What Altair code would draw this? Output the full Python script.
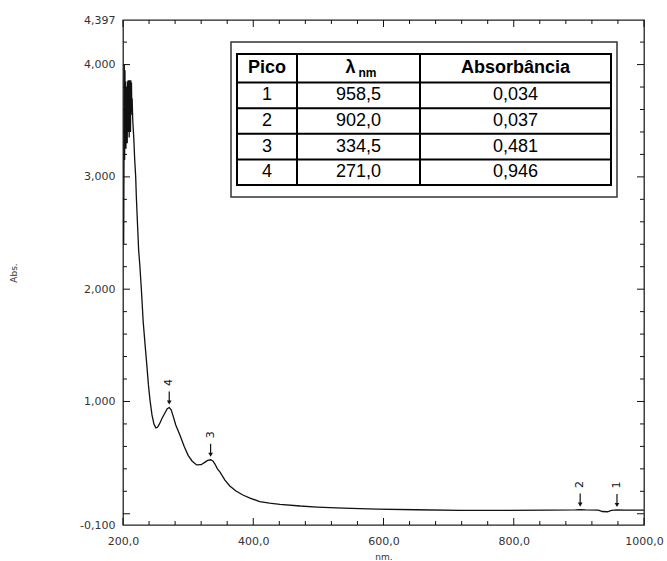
import altair as alt
import pandas as pd

# ---- spectrum (wavelength in nm, absorbance) ----
wavelength = [
    201.0, 201.5, 202.0, 202.5, 203.0, 203.5, 204.0, 204.5,
    205.0, 205.5, 206.0, 206.5, 207.0, 207.5, 208.0, 208.5, 209.0, 209.5,
    210.0, 210.5, 211.0, 211.5, 212.0, 212.5, 213.0, 213.5, 214.0, 215.0,
    216.5, 218.0, 219.5, 220.5, 222.5, 224.0, 226.0, 228.5, 231.0, 234.0,
    236.5, 239.0, 241.5, 244.5, 247.5, 250.5, 253.0, 256.0, 260.0, 264.5,
    268.0, 271.0, 274.0, 277.0, 281.0, 287.5, 294.0, 300.0, 306.0, 313.0,
    320.0, 326.0, 330.0, 334.5, 338.0, 341.0, 345.0, 349.0, 356.5, 364.0,
    373.5, 384.0, 395.0, 410.0, 425.0, 441.0, 472.0, 498.0, 538.0, 590.0,
    650.0, 717.0, 780.0, 850.0, 895.0, 902.0, 910.0, 930.0, 936.0, 944.0,
    950.0, 958.5, 970.0, 1000.0,
]
absorbance = [
    2.40, 3.06, 4.00, 3.15, 3.95, 3.30, 3.85, 3.25,
    3.80, 3.35, 3.75, 3.30, 3.85, 3.40, 3.86, 3.45, 3.80, 3.35,
    3.86, 3.50, 3.83, 3.40, 3.86, 3.55, 3.84, 3.62, 3.70, 3.50,
    3.35, 3.15, 3.00, 2.82, 2.55, 2.35, 2.20, 1.97, 1.71, 1.50,
    1.33, 1.15, 1.01, 0.88, 0.80, 0.765, 0.77, 0.80, 0.85, 0.90,
    0.935, 0.946, 0.925, 0.87, 0.79, 0.70, 0.60, 0.52, 0.47, 0.435,
    0.437, 0.46, 0.475, 0.481, 0.47, 0.445, 0.40, 0.37, 0.30, 0.247,
    0.203, 0.167, 0.14, 0.108, 0.095, 0.084, 0.069, 0.060, 0.051, 0.042,
    0.036, 0.031, 0.030, 0.032, 0.034, 0.037, 0.034, 0.033, 0.020, 0.018,
    0.030, 0.034, 0.033, 0.032,
]

# ---- detected peaks ----
peak_id = [1, 2, 3, 4]
peak_nm = [958.5, 902.0, 334.5, 271.0]
peak_abs = [0.034, 0.037, 0.481, 0.946]

# ---- axis labels and tick positions ----
x_label_values = [200, 400, 600, 800, 1000]
y_label_values = [-0.1, 1.0, 2.0, 3.0, 4.0, 4.397]
x_major_ticks = [200, 400, 600, 800, 1000]
x_minor_ticks = [240, 280, 320, 360, 440, 480, 520, 560, 640, 680, 720, 760, 840, 880, 920, 960]
y_major_ticks = [0.0, 1.0, 2.0, 3.0, 4.0]
y_minor_ticks = [0.2, 0.4, 0.6, 0.8, 1.2, 1.4, 1.6, 1.8, 2.2, 2.4, 2.6, 2.8,
                 3.2, 3.4, 3.6, 3.8, 4.2]

W, H = 521, 505
X_MIN, X_MAX = 200, 1000
Y_MIN, Y_MAX = -0.1, 4.397
PX_PER_ABS = H / (Y_MAX - Y_MIN)

AXIS_FONT = "DejaVu Sans"
TABLE_FONT = "Liberation Sans"
INK = "#111111"
LABEL_INK = "#333333"

xs = alt.Scale(domain=[X_MIN, X_MAX], nice=False, zero=False)
ys = alt.Scale(domain=[Y_MIN, Y_MAX], nice=False, zero=False)

label_expr = "replace(replace(datum.label, '.', ','), '\u2212', '-')"

X_AXIS = alt.Axis(
    values=x_label_values, format=".1f", labelExpr=label_expr,
    tickSize=0, domain=False, grid=False, labelPadding=10,
    labelFont=AXIS_FONT, labelFontSize=11, labelColor=LABEL_INK,
    labelFlush=False, labelOverlap=False,
    title="nm.", titleFont=AXIS_FONT, titleFontSize=9,
    titleFontWeight="normal", titleColor=LABEL_INK,
    titleX=W / 2, titleY=31, titleAlign="center", titleBaseline="middle",
)
Y_AXIS = alt.Axis(
    values=y_label_values, format=".3f", labelExpr=label_expr,
    tickSize=0, domain=False, grid=False, labelPadding=8,
    labelFont=AXIS_FONT, labelFontSize=11, labelColor=LABEL_INK,
    labelFlush=False, labelOverlap=False,
    title="Abs.", titleFont=AXIS_FONT, titleFontSize=9,
    titleFontWeight="normal", titleColor=LABEL_INK,
    titleAngle=270, titleX=-110, titleY=H / 2,
    titleAlign="center", titleBaseline="middle",
)


def X(field):
    return alt.X(field, scale=xs, axis=X_AXIS)


def Y(field):
    return alt.Y(field, scale=ys, axis=Y_AXIS)


spec_df = pd.DataFrame({"nm": wavelength, "abs": absorbance})

spectrum = alt.Chart(spec_df).mark_line(color=INK, strokeWidth=1.3).encode(
    x=X("nm:Q"), y=Y("abs:Q"),
)


def x_ticks(values, length, side):
    df = pd.DataFrame({"nm": values})
    y0, y1 = (H, H - length) if side == "bottom" else (0, length)
    return alt.Chart(df).mark_rule(color=INK, strokeWidth=1).encode(
        x=X("nm:Q"), y=alt.value(y0), y2=alt.value(y1),
    )


def y_ticks(values, length, side):
    df = pd.DataFrame({"abs": values})
    x0, x1 = (0, length) if side == "left" else (W, W - length)
    return alt.Chart(df).mark_rule(color=INK, strokeWidth=1).encode(
        y=Y("abs:Q"), x=alt.value(x0), x2=alt.value(x1),
    )


ticks = []
for side in ("bottom", "top"):
    ticks.append(x_ticks(x_major_ticks, 7, side))
    ticks.append(x_ticks(x_minor_ticks, 4, side))
for side in ("left", "right"):
    ticks.append(y_ticks(y_major_ticks, 7, side))
    ticks.append(y_ticks(y_minor_ticks, 4, side))

# ---- peak arrows and numbers ----
peak_df = pd.DataFrame({"id": peak_id, "nm": peak_nm, "abs": peak_abs})
peak_df["tip"] = peak_df["abs"] + 5 / PX_PER_ABS
peak_df["top"] = peak_df["abs"] + 16 / PX_PER_ABS
peak_df["lab"] = peak_df["abs"] + 25 / PX_PER_ABS

arrow_stem = alt.Chart(peak_df).mark_rule(color=INK, strokeWidth=1.2).encode(
    x=X("nm:Q"), y=Y("tip:Q"), y2="top:Q",
)
arrow_head = alt.Chart(peak_df).mark_point(
    shape="triangle-down", filled=True, size=22, color=INK, opacity=1
).encode(x=X("nm:Q"), y=Y("tip:Q"))
peak_labels = alt.Chart(peak_df).mark_text(
    angle=270, font=AXIS_FONT, fontSize=11, color=INK,
    align="center", baseline="middle",
).encode(x=X("nm:Q"), y=Y("lab:Q"), text="id:N")

# ---- peak table (pixel layout inside the plot area) ----
OUT_L, OUT_R, OUT_T, OUT_B = 108, 494, 22, 177
TAB_L, TAB_R, TAB_T, TAB_B = 114, 488, 34, 165
COL_SPLITS = [174, 297]
HEADER_B = 62.5
ROW_H = (TAB_B - HEADER_B) / len(peak_id)
TABLE_SIZE = 18

one = pd.DataFrame({"k": [0]})


def box(x0, x1, y0, y1, stroke, width, fill):
    return alt.Chart(one).mark_rect(
        stroke=stroke, strokeWidth=width, fill=fill
    ).encode(x=alt.value(x0), x2=alt.value(x1), y=alt.value(y0), y2=alt.value(y1))


def hline(x0, x1, y, width=2):
    return alt.Chart(one).mark_rule(color="black", strokeWidth=width).encode(
        x=alt.value(x0), x2=alt.value(x1), y=alt.value(y))


def vline(x, y0, y1, width=2):
    return alt.Chart(one).mark_rule(color="black", strokeWidth=width).encode(
        x=alt.value(x), y=alt.value(y0), y2=alt.value(y1))


def cell(text, cx, cy, size=TABLE_SIZE, weight="normal"):
    return alt.Chart(one).mark_text(
        font=TABLE_FONT, fontSize=size, fontWeight=weight, color="black",
        align="center", baseline="middle",
    ).encode(x=alt.value(cx), y=alt.value(cy), text=alt.value(text))


table = [
    box(OUT_L, OUT_R, OUT_T, OUT_B, "#333333", 1.5, "white"),
    box(TAB_L, TAB_R, TAB_T, TAB_B, "black", 2, "white"),
]
table.append(hline(TAB_L, TAB_R, HEADER_B))
for i in range(1, len(peak_id)):
    table.append(hline(TAB_L, TAB_R, HEADER_B + i * ROW_H))
for cxs in COL_SPLITS:
    table.append(vline(cxs, TAB_T, TAB_B))

col_centers = [
    (TAB_L + COL_SPLITS[0]) / 2,
    (COL_SPLITS[0] + COL_SPLITS[1]) / 2,
    (COL_SPLITS[1] + TAB_R) / 2,
]
head_y = (TAB_T + HEADER_B) / 2
table.append(cell("Pico", col_centers[0], head_y, weight="bold"))
table.append(cell("\u03bb", col_centers[1] - 8, head_y, weight="bold"))
table.append(cell("nm", col_centers[1] + 9, head_y + 5, size=12, weight="bold"))
table.append(cell("Absorb\u00e2ncia", col_centers[2], head_y, weight="bold"))

for i, (pid, pnm, pab) in enumerate(zip(peak_id, peak_nm, peak_abs)):
    cy = HEADER_B + (i + 0.5) * ROW_H
    table.append(cell(str(pid), col_centers[0], cy))
    table.append(cell(f"{pnm:.1f}".replace(".", ","), col_centers[1], cy))
    table.append(cell(f"{pab:.3f}".replace(".", ","), col_centers[2], cy))

chart = alt.layer(
    spectrum, *ticks, arrow_stem, arrow_head, peak_labels, *table
).properties(
    width=W, height=H,
    autosize=alt.AutoSizeParams(type="none"),
    padding={"left": 123, "top": 20, "right": 23, "bottom": 36},
    background="white",
).configure_view(
    stroke="#222222", strokeWidth=1.3,
)

chart.save("out.html", embed_options={"renderer": "svg", "actions": False})
